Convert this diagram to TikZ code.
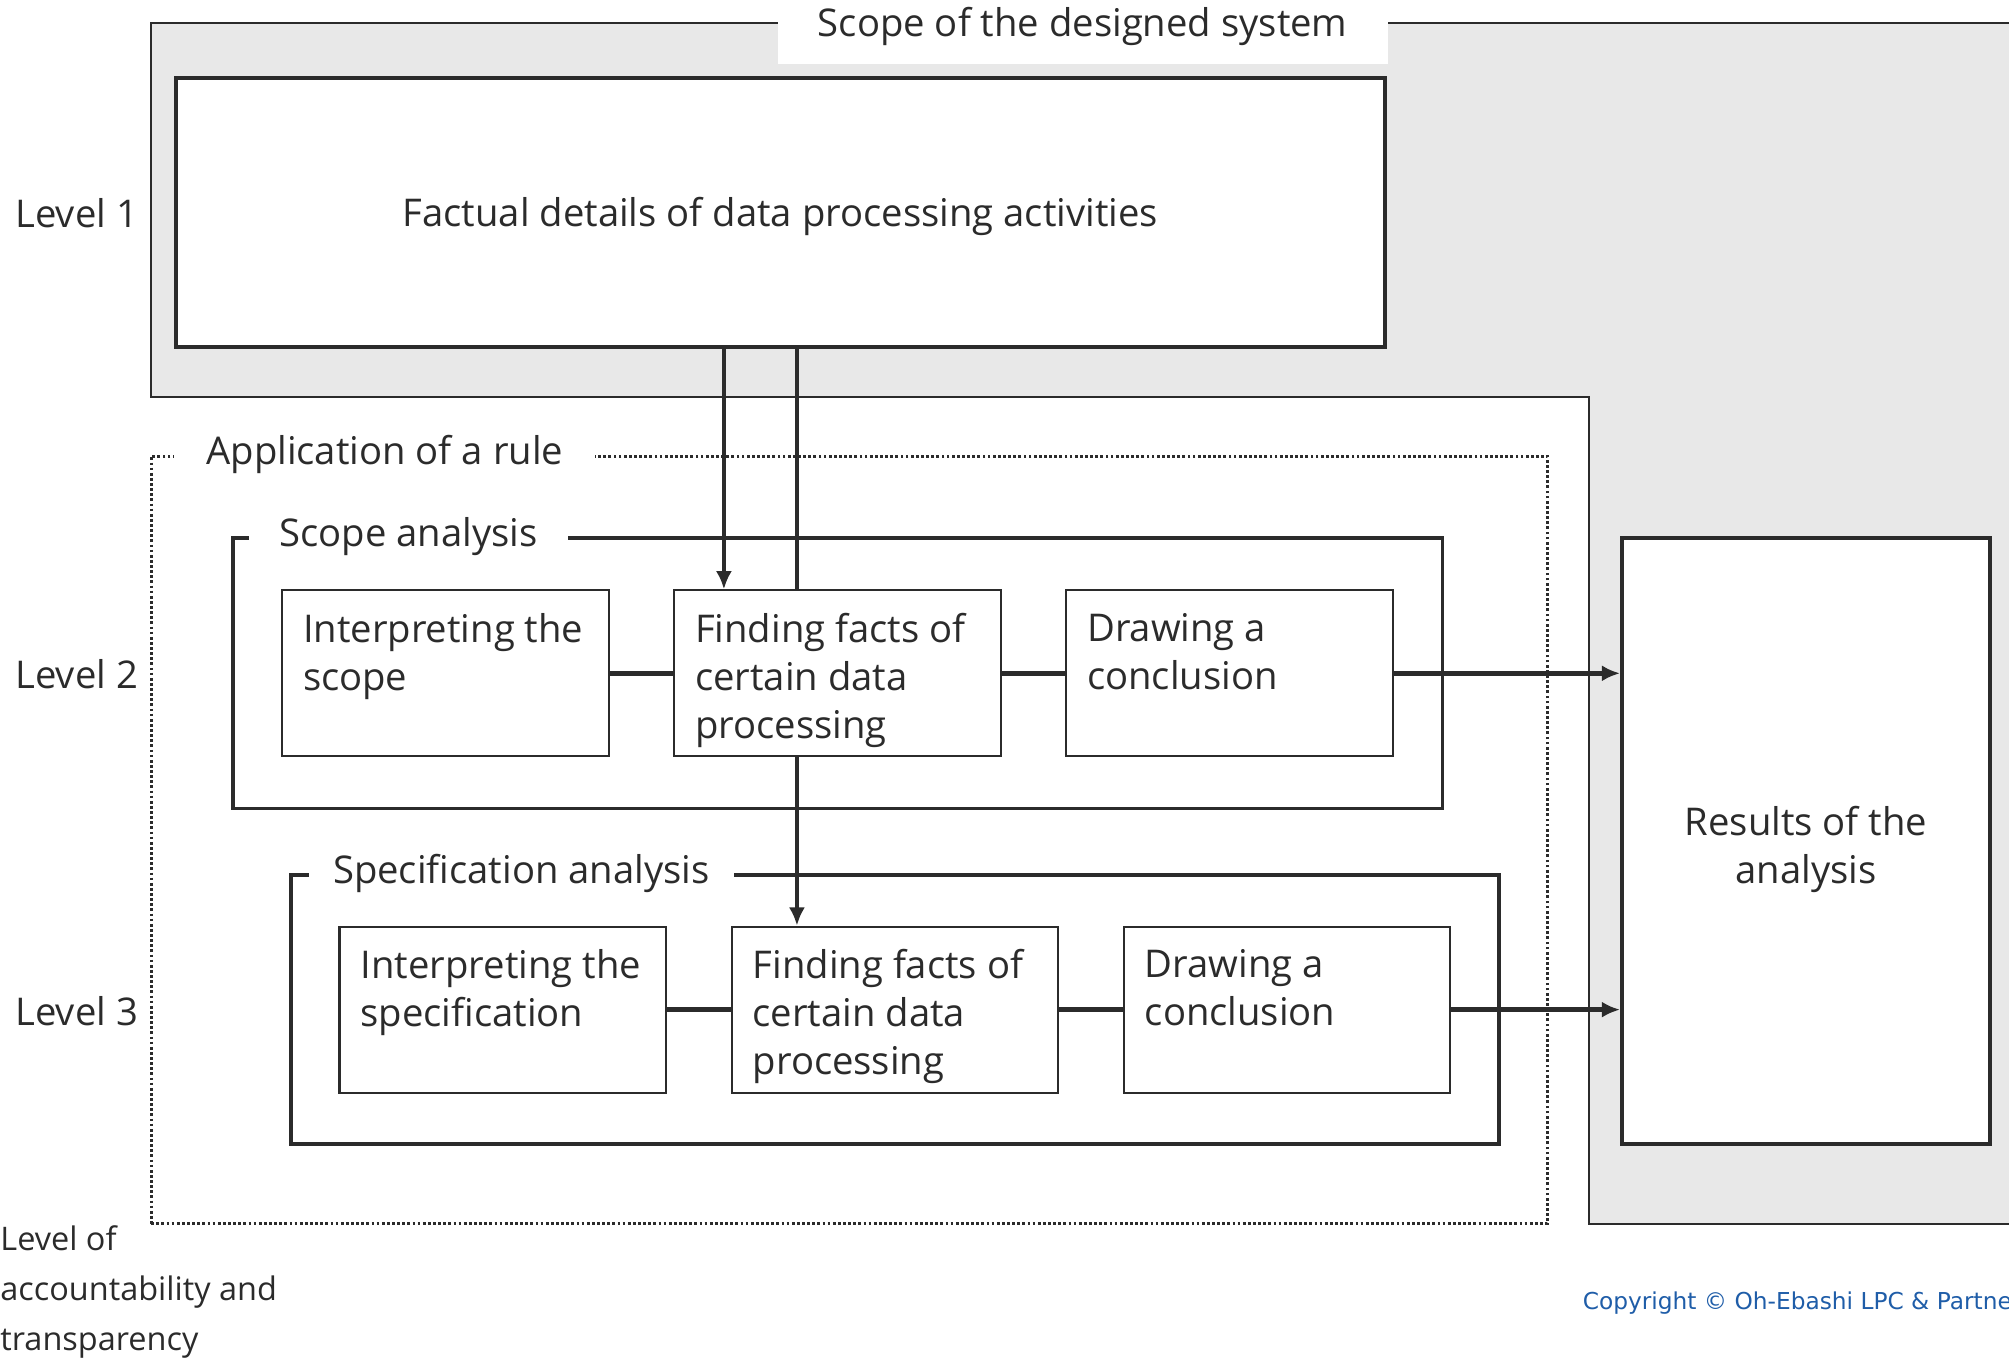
\documentclass[tikz,border=0pt]{standalone}
\usepackage{fontspec}
\setmainfont{Open Sans}
\newfontfamily\copyfont{DejaVu Sans}
\usetikzlibrary{arrows.meta}

\definecolor{linegray}{HTML}{2B2B2B}
\definecolor{scopegray}{HTML}{E8E8E8}
\definecolor{copyblue}{HTML}{1F5DA8}

\tikzset{
  bigbox/.style={draw=linegray, line width=1.9pt, fill=white, inner sep=0pt, align=center},
  stepbox/.style={draw=linegray, line width=1pt, fill=white, minimum width=153pt, minimum height=77.7pt, inner sep=0pt},
  steptext/.style={anchor=north west, align=left, inner sep=0pt, xshift=10.2pt, yshift=-11pt},
  frame/.style={draw=linegray, line width=1.6pt, inner sep=0pt},
  framelabel/.style={anchor=west, fill=white, inner xsep=14.4pt, inner ysep=3pt},
  levellabel/.style={anchor=east, inner sep=0pt},
  link/.style={draw=linegray, line width=2.4pt},
  flow/.style={draw=linegray, line width=1.6pt},
}

\begin{document}
\begin{tikzpicture}[x=0.6pt, y=-0.6pt, >={Latex[length=8.5pt,width=7.5pt]},
  every node/.style={font=\fontsize{17.9}{22.5}\selectfont, text=linegray}]

  \useasboundingbox (0,0) rectangle (1568,1060);

  % --- scope of the designed system (gray area) ---
  \filldraw[fill=scopegray, draw=linegray, line width=0.9pt]
    (118,18) -- (1620,18) -- (1620,955) -- (1240,955) -- (1240,310) -- (118,310) -- cycle;
  \fill[white] (607,0) rectangle (1083,50);
  \node (title) at (845,21) {Scope of the designed system};

  % --- level 1 ---
  \node[bigbox, minimum width=566.4pt, minimum height=126pt, text height=17pt] (facts) at (609,166)
    {Factual details of data processing activities};

  % --- application of a rule ---
  \node[draw=linegray, line width=1.5pt, dash pattern=on 1.3pt off 1.1pt,
        minimum width=654pt, minimum height=359.4pt, inner sep=0pt] (rule) at (663,655.5) {};
  \node[framelabel, inner xsep=15pt] (rulelabel) at ([xshift=11.4pt]rule.north west) {Application of a rule};

  % --- scope analysis ---
  \node[frame, minimum width=566.4pt, minimum height=126.6pt] (scopeframe) at (654,525.5) {};
  \node[framelabel] (scopelabel) at ([xshift=7.8pt]scopeframe.north west) {Scope analysis};

  \node[stepbox] (interp2) at (347.5,525.5) {};
  \node[stepbox] (find2)   at (653.5,525.5) {};
  \node[stepbox] (concl2)  at (959.5,525.5) {};
  \node[steptext] (interp2txt) at (interp2.north west) {Interpreting the\\scope};
  \node[steptext] (find2txt)   at (find2.north west)   {Finding facts of\\certain data\\processing};
  \node[steptext] (concl2txt)  at (concl2.north west)  {Drawing a\\conclusion};

  % --- specification analysis ---
  \node[frame, minimum width=565.8pt, minimum height=126pt] (specframe) at (698.5,788) {};
  \node[framelabel, inner xsep=11.4pt] (speclabel) at ([xshift=9pt]specframe.north west) {Specification analysis};

  \node[stepbox] (interp3) at (392.5,788) {};
  \node[stepbox] (find3)   at (698.5,788) {};
  \node[stepbox] (concl3)  at (1004.5,788) {};
  \node[steptext] (interp3txt) at (interp3.north west) {Interpreting the\\specification};
  \node[steptext] (find3txt)   at (find3.north west)   {Finding facts of\\certain data\\processing};
  \node[steptext] (concl3txt)  at (concl3.north west)  {Drawing a\\conclusion};

  % --- results ---
  \node[bigbox, minimum width=172.2pt, minimum height=283.8pt, text height=43.6pt] (results) at (1409.5,656.5)
    {Results of the\\analysis};

  % --- levels ---
  \node[levellabel] (lv1) at (108,166) {Level 1};
  \node[levellabel] (lv2) at (108,526) {Level 2};
  \node[levellabel] (lv3) at (108,789) {Level 3};
  \node[anchor=north west, align=left, inner sep=0pt,
        font=\fontsize{15.2}{23.4}\selectfont] (lvlnote) at (0,956)
    {Level of\\accountability and\\transparency};

  % --- connectors ---
  \coordinate (xa) at (565,0);
  \coordinate (xb) at (622,0);
  \draw[flow, ->] (facts.south -| xa) -- (find2.north -| xa);
  \draw[flow] (facts.south -| xb) -- (find2.north -| xb);
  \draw[flow, ->] (find2.south -| xb) -- (find3.north -| xb);

  \draw[link] (interp2) -- (find2);
  \draw[link] (find2) -- (concl2);
  \draw[link, ->] (concl2) -- (concl2 -| results.west);
  \draw[link] (interp3) -- (find3);
  \draw[link] (find3) -- (concl3);
  \draw[link, ->] (concl3) -- (concl3 -| results.west);

  \node[anchor=west, inner sep=0pt, text=copyblue, font=\copyfont\fontsize{10.9}{12}\selectfont]
    (copy) at (1235,1017) {Copyright © Oh-Ebashi LPC \& Partners};

\end{tikzpicture}
\end{document}
